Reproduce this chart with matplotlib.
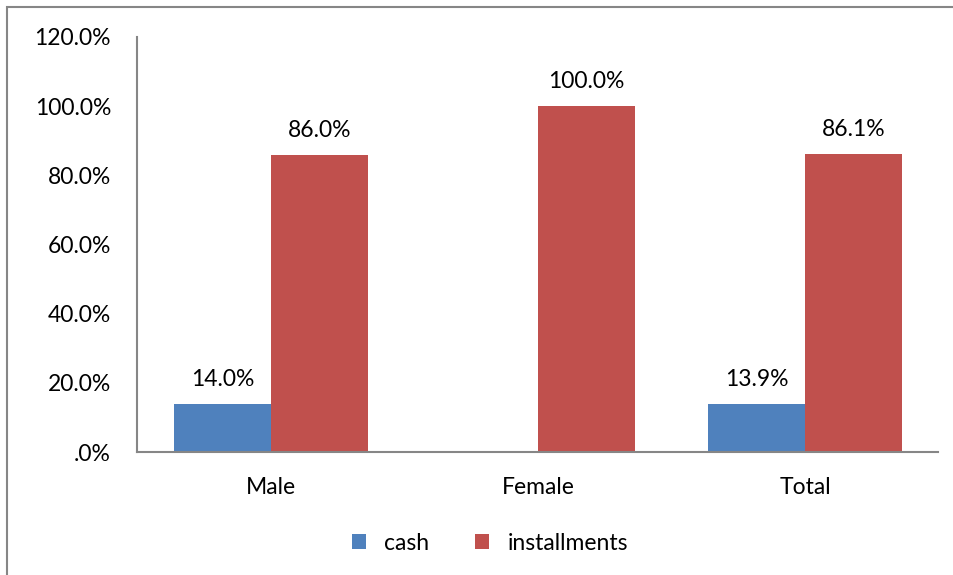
import numpy as np
import matplotlib.pyplot as plt
from matplotlib.patches import Rectangle
from matplotlib.ticker import FuncFormatter

categories = ['Male', 'Female', 'Total']
cash = [14.0, 0.0, 13.9]
installments = [86.0, 100.0, 86.1]
cash_labels = ['14.0%', '', '13.9%']
inst_labels = ['86.0%', '100.0%', '86.1%']

plt.rcParams['font.family'] = ['Lato', 'DejaVu Sans']
FS = 16.5

fig = plt.figure(figsize=(9.54, 5.75), dpi=100)
ax = fig.add_axes([0.1441, 0.2139, 0.8396, 0.7218])

# outer chart frame (only left and top visible)
fig.patches.append(Rectangle((7.5 / 954, -0.1), 1.2, 1.1 - 6.5 / 575, transform=fig.transFigure,
                             fill=False, edgecolor='#868686', linewidth=1.5))

x = np.arange(len(categories))
w = 0.363
b1 = ax.bar(x - w / 2, cash, w, color='#4F81BD', label='cash')
b2 = ax.bar(x + w / 2, installments, w, color='#C0504D', label='installments')

for rect, lab in zip(b1, cash_labels):
    if lab:
        ax.text(rect.get_x() + rect.get_width() / 2, rect.get_height() + 4.0, lab,
                ha='center', va='bottom', fontsize=FS)
for rect, lab in zip(b2, inst_labels):
    ax.text(rect.get_x() + rect.get_width() / 2, rect.get_height() + 4.0, lab,
            ha='center', va='bottom', fontsize=FS)

ax.set_xlim(-0.5, 2.5)
ax.set_ylim(0, 120)
ax.set_yticks(np.arange(0, 121, 20))
ax.yaxis.set_major_formatter(FuncFormatter(lambda v, p: '.0%' if v == 0 else '{:.1f}%'.format(v)))
ax.set_xticks(x)
ax.set_xticklabels(categories)
ax.tick_params(axis='both', length=0, labelsize=FS)
ax.tick_params(axis='y', pad=19)
ax.tick_params(axis='x', pad=18)

for s in ['top', 'right']:
    ax.spines[s].set_visible(False)
for s in ['left', 'bottom']:
    ax.spines[s].set_color('#868686')
    ax.spines[s].set_linewidth(1.5)

ax.legend(loc='center', bbox_to_anchor=(490 / 954, 1 - 543 / 575), bbox_transform=fig.transFigure,
          ncol=2, frameon=False, fontsize=FS, handlelength=0.6, handleheight=0.6,
          columnspacing=2.0, handletextpad=0.8)

fig.savefig('out.png', dpi=100)
